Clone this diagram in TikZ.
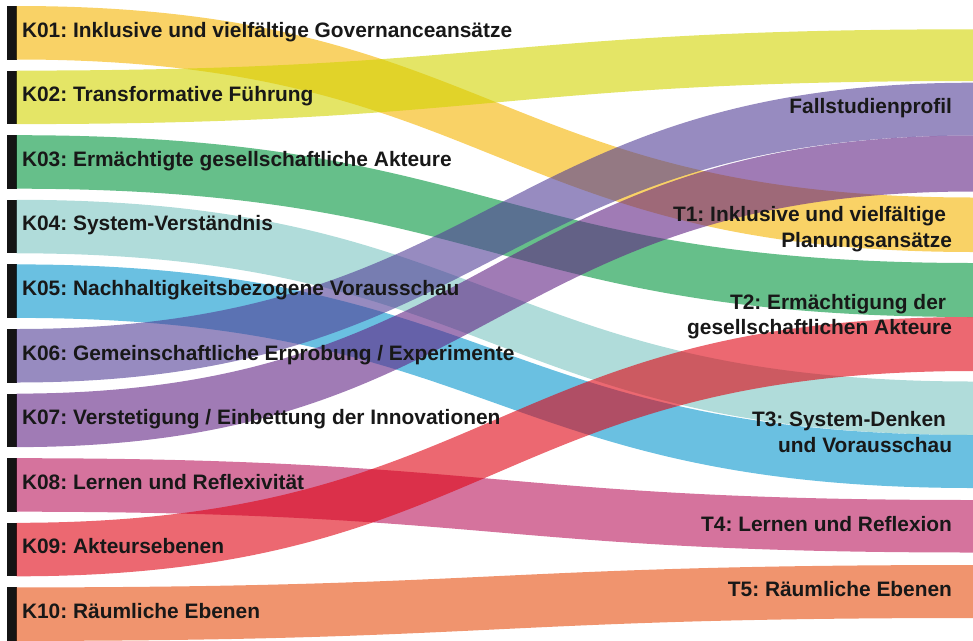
\documentclass[tikz,border=0pt]{standalone}
\usepackage{fontspec}
\setmainfont{Liberation Sans}
\frenchspacing
\definecolor{cK01}{RGB}{245,180,0}
\definecolor{cK02}{RGB}{210,212,0}
\definecolor{cK03}{RGB}{0,148,60}
\definecolor{cK04}{RGB}{123,197,193}
\definecolor{cK05}{RGB}{7,150,205}
\definecolor{cK06}{RGB}{82,62,150}
\definecolor{cK07}{RGB}{97,35,132}
\definecolor{cK08}{RGB}{185,22,92}
\definecolor{cK09}{RGB}{223,3,18}
\definecolor{cK10}{RGB}{230,77,13}
\definecolor{barblack}{RGB}{20,20,20}
\definecolor{labtext}{RGB}{24,24,24}
\newcommand\skflow[3]{%
  \fill[fill=#1, fill opacity=0.6] (#2.north east) .. controls +(478,0) and +(-478,0) .. (#3a)
    -- (#3b) .. controls +(-478,0) and +(478,0) .. (#2.south east) -- cycle;}
\begin{document}
\begin{tikzpicture}[x=1pt,y=-1pt,
  lab/.style={font=\bfseries\fontsize{20.9}{25}\selectfont, text=labtext, inner sep=0pt, outer sep=0pt},
  srcbar/.style={rectangle, draw=none, fill=barblack, minimum width=9.6pt, minimum height=53.5pt, inner sep=0pt, outer sep=0pt}]
\useasboundingbox (0,0) rectangle (973,640);
% source bars
\node[srcbar] (k01) at (11.8,32.75) {};
\node[srcbar] (k02) at (11.8,97.35) {};
\node[srcbar] (k03) at (11.8,161.95) {};
\node[srcbar] (k04) at (11.8,226.55) {};
\node[srcbar] (k05) at (11.8,291.15) {};
\node[srcbar] (k06) at (11.8,355.75) {};
\node[srcbar] (k07) at (11.8,420.35) {};
\node[srcbar] (k08) at (11.8,484.95) {};
\node[srcbar] (k09) at (11.8,549.55) {};
\node[srcbar] (k10) at (11.8,614.15) {};
% target ends
\coordinate (e02a) at (973,29.3);  \coordinate (e02b) at (973,81);
\coordinate (e06a) at (973,82.7);  \coordinate (e06b) at (973,135.5);
\coordinate (e07a) at (973,135.5); \coordinate (e07b) at (973,191.5);
\coordinate (e01a) at (973,197.5); \coordinate (e01b) at (973,252);
\coordinate (e03a) at (973,263);   \coordinate (e03b) at (973,317);
\coordinate (e09a) at (973,317);   \coordinate (e09b) at (973,371);
\coordinate (e04a) at (973,381.5); \coordinate (e04b) at (973,435);
\coordinate (e05a) at (973,435);   \coordinate (e05b) at (973,488);
\coordinate (e08a) at (973,500);   \coordinate (e08b) at (973,552.5);
\coordinate (e10a) at (973,565);   \coordinate (e10b) at (973,618);
% flows
\skflow{cK01}{k01}{e01}
\skflow{cK02}{k02}{e02}
\skflow{cK03}{k03}{e03}
\skflow{cK04}{k04}{e04}
\skflow{cK05}{k05}{e05}
\skflow{cK06}{k06}{e06}
\skflow{cK07}{k07}{e07}
\skflow{cK08}{k08}{e08}
\skflow{cK09}{k09}{e09}
\skflow{cK10}{k10}{e10}
% source labels
\node[lab, anchor=base west] (l01) at (22,37)    {K01: Inklusive und vielfältige Governanceansätze};
\node[lab, anchor=base west] (l02) at (22,101.6) {K02: Transformative Führung};
\node[lab, anchor=base west] (l03) at (22,166.2) {K03: Ermächtigte gesellschaftliche Akteure};
\node[lab, anchor=base west] (l04) at (22,230.8) {K04: System-Verständnis};
\node[lab, anchor=base west] (l05) at (22,295.4) {K05: Nachhaltigkeitsbezogene Vorausschau};
\node[lab, anchor=base west] (l06) at (22,360)   {K06: Gemeinschaftliche Erprobung / Experimente};
\node[lab, anchor=base west] (l07) at (22,424.6) {K07: Verstetigung / Einbettung der Innovationen};
\node[lab, anchor=base west] (l08) at (22,489.2) {K08: Lernen und Reflexivität};
\node[lab, anchor=base west] (l09) at (22,553.8) {K09: Akteursebenen};
\node[lab, anchor=base west] (l10) at (22,618.4) {K10: Räumliche Ebenen};
% target labels
\node[lab, anchor=base east] (tf)  at (952,113) {Fallstudienprofil};
\node[lab, anchor=base east] (t1a) at (946,221) {T1: Inklusive und vielfältige};
\node[lab, anchor=base east] (t1b) at (952,247) {Planungsansätze};
\node[lab, anchor=base east] (t2a) at (946,309) {T2: Ermächtigung der};
\node[lab, anchor=base east] (t2b) at (952,334.5) {gesellschaftlichen Akteure};
\node[lab, anchor=base east] (t3a) at (946,426.5) {T3: System-Denken};
\node[lab, anchor=base east] (t3b) at (952,452) {und Vorausschau};
\node[lab, anchor=base east] (t4)  at (952,531) {T4: Lernen und Reflexion};
\node[lab, anchor=base east] (t5)  at (952,596) {T5: Räumliche Ebenen};
\end{tikzpicture}
\end{document}
